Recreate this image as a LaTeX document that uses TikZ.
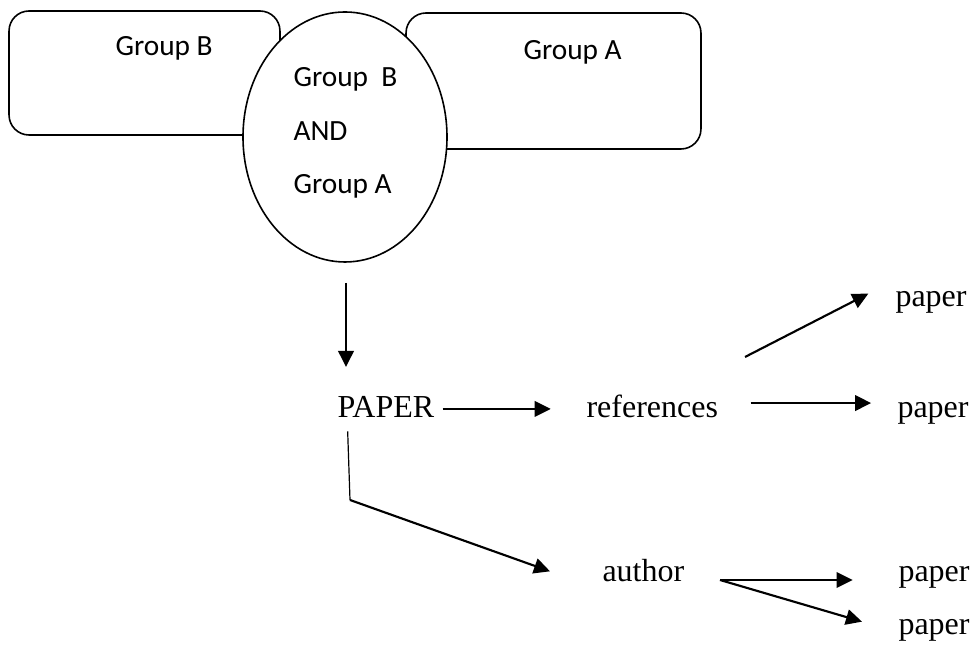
\documentclass[tikz,border=0pt]{standalone}
\usepackage{fontspec}
\setmainfont{Liberation Serif}
\newfontfamily\grpfont{Carlito}
\usepackage{tikz}
\usetikzlibrary{arrows.meta,shapes.geometric}
\tikzset{
  grpbox/.style={rectangle, draw, line width=0.6pt, rounded corners=7.5pt, inner sep=0pt},
  both/.style={ellipse, draw, line width=0.6pt, fill=white, minimum width=76.5pt,
               minimum height=93.75pt, inner sep=0pt},
  grptxt/.style={anchor=base west, inner sep=0pt, font=\grpfont\fontsize{11}{13}\selectfont},
  word/.style={anchor=base west, inner sep=0pt, font=\fontsize{12}{14}\selectfont},
  arr/.style={line width=0.8pt, -{Triangle[length=6pt,width=5.8pt]}},
  thin/.style={line width=0.45pt},
}
\begin{document}
\begin{tikzpicture}[x=0.375pt,y=-0.375pt]
  \useasboundingbox (0,0) rectangle (972,646);
  \node[grpbox, minimum width=101.6pt, minimum height=46.5pt] (grpB) at (144.5,73) {};
  \node[grpbox, minimum width=110.6pt, minimum height=51pt] (grpA) at (553.5,81) {};
  \node[both] (ell) at (345,137) {};
  \node[grptxt] (grpBt) at (115,56) {Group B};
  \node[grptxt] (grpAt) at (523,60) {Group A};
  \node[grptxt] (ellB) at (293,87) {Group~\ B};
  \node[grptxt] (ellAnd) at (293,141) {AND};
  \node[grptxt] (ellA) at (293,194) {Group A};
  \node[word] (paper) at (337,418) {PAPER};
  \node[word] (refs) at (586,418) {references};
  \node[word] (author) at (602,582) {author};
  \node[word] (pap1) at (895,307) {paper};
  \node[word] (pap2) at (897,418) {paper};
  \node[word] (pap3) at (898,582) {paper};
  \node[word] (pap4) at (898,635) {paper};
  \coordinate (dnS) at (346,283);
  \coordinate (dnE) at (346,367);
  \coordinate (refL) at (745,357);
  \coordinate (bend) at (350,500);
  \coordinate (autR) at (720,580);
  \draw[arr] (dnS) -- (dnE);
  \draw[arr] ([xshift=3pt,yshift=3.4pt]paper.base east) -- ++(40.5pt,0);
  \draw[arr] (refL) -- ([xshift=-10pt,yshift=5pt]pap1.base west);
  \draw[arr] ([xshift=12pt,yshift=5.6pt]refs.base east) -- ([xshift=-9.7pt,yshift=5.6pt]pap2.base west);
  \draw[thin] ([xshift=4pt,yshift=-5pt]paper.base west) -- (bend);
  \draw[arr] (bend) -- ([xshift=-19.5pt,yshift=4pt]author.base west);
  \draw[arr] (autR) -- ([xshift=-17pt]pap3.base west |- autR);
  \draw[arr] (autR) -- ([xshift=-13.5pt,yshift=5pt]pap4.base west);
\end{tikzpicture}
\end{document}
